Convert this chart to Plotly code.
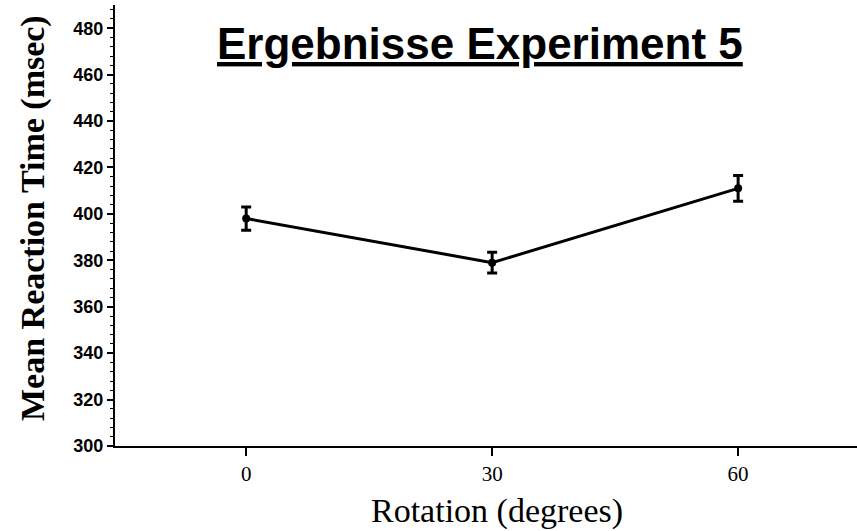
import plotly.graph_objects as go

rotation = [0, 30, 60]
mean_rt = [398, 379, 411]
err_rt = [5, 4.5, 5.5]
y_ticks = [300, 320, 340, 360, 380, 400, 420, 440, 460, 480]
x_ticks = [0, 30, 60]

W, H = 857, 531
L, R, T, B = 115, 0, 5, 85
pw, ph = W - L - R, H - T - B


def px_x(px):
    return (px - L) / pw


def px_y(py):
    return (H - B - py) / ph


fig = go.Figure()
fig.add_trace(go.Scatter(
    x=rotation, y=mean_rt,
    mode="lines+markers",
    line=dict(color="black", width=3),
    marker=dict(color="black", size=8, symbol="circle"),
    error_y=dict(type="data", array=err_rt, visible=True, color="black",
                 thickness=3, width=5),
    showlegend=False,
))

fig.update_layout(
    width=W, height=H,
    margin=dict(l=L, r=R, t=T, b=B, autoexpand=False),
    paper_bgcolor="white", plot_bgcolor="white",
    xaxis=dict(range=[-16, 74.5], tickvals=x_ticks, ticktext=[str(v) for v in x_ticks],
               showline=True, linecolor="black", linewidth=2, automargin=False,
               ticks="outside", ticklen=8, tickwidth=1.5, tickcolor="black",
               showgrid=False, zeroline=False,
               tickfont=dict(family="Liberation Serif, Times New Roman", size=21, color="black")),
    yaxis=dict(range=[300, 490], tickvals=y_ticks, ticktext=[str(v) for v in y_ticks],
               showline=True, linecolor="black", linewidth=2, automargin=False,
               ticks="outside", ticklen=6, tickwidth=1.5, tickcolor="black",
               minor=dict(dtick=4, ticks="outside", ticklen=3, tickwidth=1, tickcolor="black", showgrid=False),
               showgrid=False, zeroline=False,
               tickfont=dict(family="Liberation Sans, Arial", size=18, color="black", weight="bold")),
    annotations=[
        dict(text="<b><u>Ergebnisse Experiment 5</u></b>", showarrow=False,
             xref="paper", yref="paper", x=px_x(480), y=px_y(44),
             xanchor="center", yanchor="middle",
             font=dict(family="Liberation Sans, Arial", size=44, color="black")),
        dict(text="Rotation (degrees)", showarrow=False,
             xref="paper", yref="paper", x=px_x(497), y=px_y(511),
             xanchor="center", yanchor="middle",
             font=dict(family="Liberation Serif, Times New Roman", size=34, color="black")),
        dict(text="<b>Mean Reaction Time (msec)</b>", showarrow=False, textangle=-90,
             xref="paper", yref="paper", x=px_x(33), y=px_y(218),
             xanchor="center", yanchor="middle",
             font=dict(family="Liberation Serif, Times New Roman", size=34, color="black")),
    ],
)

fig.write_html("out.html", config={"displayModeBar": False},
               post_script="document.body.style.margin='0';")
